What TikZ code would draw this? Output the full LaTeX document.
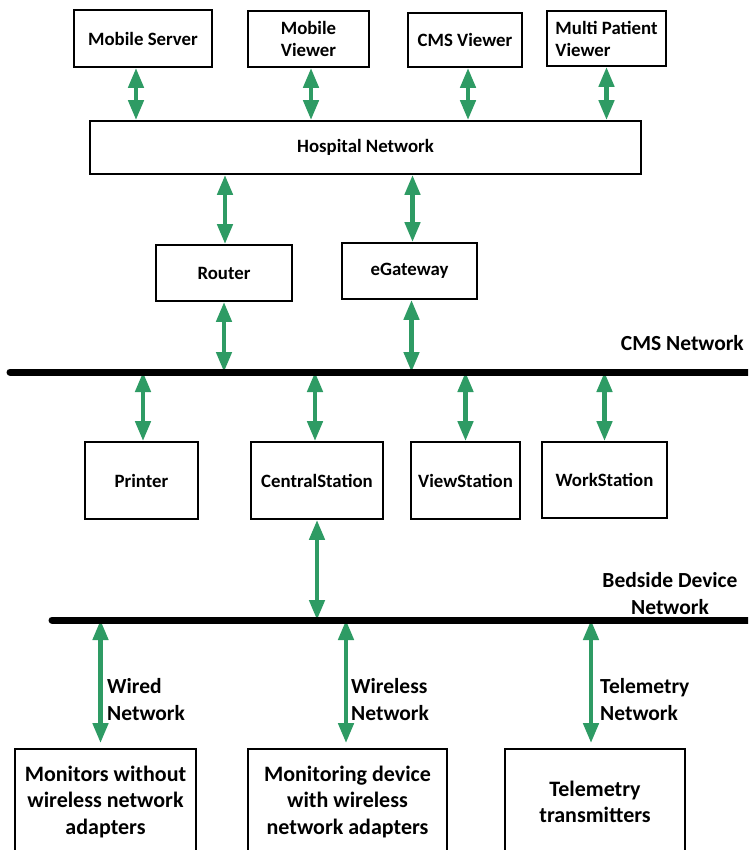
\documentclass[tikz,border=0pt]{standalone}
\usepackage{fontspec}
\setmainfont{Carlito}
\usetikzlibrary{arrows.meta}

\definecolor{linkgreen}{RGB}{46,155,100}

\tikzset{
  box/.style={draw=black, line width=1.8pt, fill=white, align=center, inner sep=2pt,
    font=\bfseries\fontsize{18.8}{22}\selectfont},
  bigbox/.style={box, font=\bfseries\fontsize{22}{26.5}\selectfont},
  netlabel/.style={align=center, inner sep=0pt, font=\bfseries\fontsize{21.5}{27}\selectfont},
  link/.style={draw=linkgreen, line width=4.5pt,
    {Triangle[width=15pt,length=20pt]}-{Triangle[width=15pt,length=20pt]}},
  bus/.style={line width=7pt, line cap=round},
}

\begin{document}
\begin{tikzpicture}[x=1pt,y=-1pt]
\useasboundingbox (0,0) rectangle (748,850);
\clip (0,0) rectangle (748,850);
\fill[white] (0,0) rectangle (748,850);

% top level: viewers and servers
\node[box, minimum width=138pt, minimum height=57pt] (msrv) at (143,38.5) {Mobile Server};
\node[box, minimum width=121pt, minimum height=56pt] (mview) at (308.5,39) {Mobile\\Viewer};
\node[box, minimum width=114pt, minimum height=54pt] (cmsview) at (465,40) {CMS Viewer};
\node[box, align=left, minimum width=119pt, minimum height=55pt] (mpview) at (606.5,38.5) {Multi Patient\\Viewer};
\node[box, minimum width=551pt, minimum height=53pt] (hosp) at (365.5,147.5) {Hospital Network};

% gateways
\node[box, minimum width=136pt, minimum height=56pt] (router) at (224,273) {Router};
\node[box, minimum width=135pt, minimum height=56pt] (egw) at (409.5,271) {eGateway};

% CMS network bus
\coordinate (cmsL) at (10,372);
\coordinate (cmsR) at (760,372);
\node[netlabel, anchor=east] (cmslbl) at (744,343) {CMS Network};

% stations
\node[box, minimum width=113pt, minimum height=77pt] (printer) at (141.5,480.5) {Printer};
\node[box, minimum width=132pt, minimum height=77pt] (central) at (317,480.5) {CentralStation};
\node[box, minimum width=109pt, minimum height=77pt] (vstation) at (465.5,480.5) {ViewStation};
\node[box, minimum width=125pt, minimum height=76pt] (wstation) at (604.5,480) {WorkStation};

% bedside device network bus
\coordinate (bedL) at (52,620);
\coordinate (bedR) at (760,620);
\node[netlabel] (bedlbl) at (670,593.5) {Bedside Device\\Network};

% bedside devices
\node[bigbox, minimum width=181pt, minimum height=106pt] (mon1) at (105.5,802) {Monitors without\\wireless network\\adapters};
\node[bigbox, minimum width=199pt, minimum height=106pt] (mon2) at (347.5,802) {Monitoring device\\with wireless\\network adapters};
\node[bigbox, minimum width=180pt, minimum height=106pt] (tele) at (595,802) {Telemetry\\transmitters};

% links to hospital network
\draw[link] ([xshift=-7pt]msrv.south) -- ([xshift=-7pt]msrv.south |- hosp.north);
\draw[link] ([xshift=2.5pt]mview.south) -- ([xshift=2.5pt]mview.south |- hosp.north);
\draw[link] ([xshift=3pt]cmsview.south) -- ([xshift=3pt]cmsview.south |- hosp.north);
\draw[link] (mpview.south) -- (mpview.south |- hosp.north);
\draw[link] ([xshift=1pt]router.north |- hosp.south) -- ([xshift=1pt]router.north);
\draw[link] ([xshift=3pt]egw.north |- hosp.south) -- ([xshift=3pt]egw.north);

% links to CMS network
\draw[link] (router.south) -- (router.south |- cmsL);
\draw[link] ([xshift=2pt]egw.south) -- ([xshift=2pt]egw.south |- cmsL);
\draw[link] ([xshift=1.5pt]printer.north |- cmsL) -- ([xshift=1.5pt]printer.north);
\draw[link] ([xshift=-2pt]central.north |- cmsL) -- ([xshift=-2pt]central.north);
\draw[link] (vstation.north |- cmsL) -- (vstation.north);
\draw[link] (wstation.north |- cmsL) -- (wstation.north);

% links to bedside network
\draw[link] (central.south) -- (central.south |- bedL);
\draw[link, shorten >=5pt] ([xshift=-5pt]mon1.north |- bedL) -- ([xshift=-5pt]mon1.north);
\draw[link, shorten >=5pt] ([xshift=-1.5pt]mon2.north |- bedL) -- ([xshift=-1.5pt]mon2.north);
\draw[link, shorten >=5pt] ([xshift=-4pt]tele.north |- bedL) -- ([xshift=-4pt]tele.north);

\node[netlabel, align=left, anchor=west] (wiredlbl) at (107,699.5) {Wired\\Network};
\node[netlabel, align=left, anchor=west] (wlesslbl) at (351,699.5) {Wireless\\Network};
\node[netlabel, align=left, anchor=west] (telelbl) at (600,699.5) {Telemetry\\Network};

% buses on top
\draw[bus] (cmsL) -- (cmsR);
\draw[bus] (bedL) -- (bedR);
\end{tikzpicture}
\end{document}
